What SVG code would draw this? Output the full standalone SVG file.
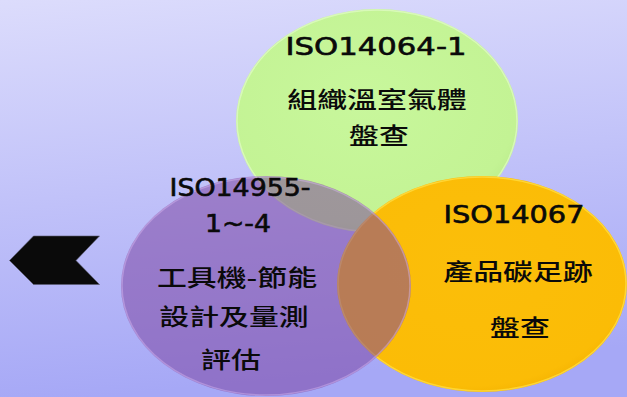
<svg xmlns="http://www.w3.org/2000/svg" width="627" height="397" viewBox="0 0 627 397">
  <defs>
    <linearGradient id="bg" x1="0" y1="0" x2="0.15" y2="1">
      <stop offset="0" stop-color="#dcdcfc"/>
      <stop offset="1" stop-color="#a6a8f6"/>
    </linearGradient>
    <radialGradient id="gGreen" cx="0.45" cy="0.4" r="0.65">
      <stop offset="0" stop-color="#c8f79c"/>
      <stop offset="0.85" stop-color="#c3f394"/>
      <stop offset="1" stop-color="#b8ea8a"/>
    </radialGradient>
    <radialGradient id="gOrange" cx="0.45" cy="0.4" r="0.65">
      <stop offset="0" stop-color="#fbbe0a"/>
      <stop offset="0.88" stop-color="#fbbc06"/>
      <stop offset="1" stop-color="#f2b000"/>
    </radialGradient>
    <style>
      .lbl { font-family: "Noto Sans CJK TC", "Noto Sans", sans-serif; font-size: 23px; font-weight: 500; fill: #0a0a0a; text-anchor: middle; }
      .lat { font-family: "DejaVu Sans", "Noto Sans CJK TC", sans-serif; font-size: 24px; fill: #0a0a0a; stroke: #0a0a0a; stroke-width: 0.6; text-anchor: middle; }
      .rim { fill: none; stroke-width: 1.5; }
    </style>
  </defs>

  <rect x="0" y="0" width="627" height="397" fill="url(#bg)"/>

  <g id="node-green">
    <ellipse cx="377" cy="121" rx="141" ry="112" fill="url(#gGreen)"/>
    <ellipse class="rim" cx="377" cy="121" rx="140" ry="111" stroke="#e6fbd0" stroke-opacity="0.6"/>
  </g>

  <g id="node-orange">
    <ellipse cx="482" cy="284" rx="145" ry="108" fill="url(#gOrange)"/>
    <ellipse class="rim" cx="482" cy="284" rx="144" ry="107" stroke="#ffe14a" stroke-opacity="0.7"/>
  </g>

  <g id="node-purple">
    <ellipse cx="266" cy="286" rx="145" ry="110" fill="#7a41a0" fill-opacity="0.52"/>
    <ellipse class="rim" cx="266" cy="286" rx="144" ry="109" stroke="#d8b8f0" stroke-opacity="0.45"/>
  </g>

  <g id="labels-green">
    <text class="lat" x="376" y="55" textLength="181" lengthAdjust="spacingAndGlyphs">ISO14064-1</text>
    <text class="lbl" transform="translate(377,108) scale(1.3,1)">組織溫室氣體</text>
    <text class="lbl" transform="translate(379,144) scale(1.3,1)">盤查</text>
  </g>

  <g id="labels-purple">
    <text class="lat" x="240" y="196" textLength="141" lengthAdjust="spacingAndGlyphs">ISO14955-</text>
    <text class="lat" x="238" y="232" textLength="66" lengthAdjust="spacingAndGlyphs">1~-4</text>
    <text class="lbl" transform="translate(237,286) scale(1.3,1)">工具機-節能</text>
    <text class="lbl" transform="translate(234,325) scale(1.3,1)">設計及量測</text>
    <text class="lbl" transform="translate(231,368) scale(1.3,1)">評估</text>
  </g>

  <g id="labels-orange">
    <text class="lat" x="514" y="223" textLength="141" lengthAdjust="spacingAndGlyphs">ISO14067</text>
    <text class="lbl" transform="translate(518,280) scale(1.3,1)">產品碳足跡</text>
    <text class="lbl" transform="translate(520,336) scale(1.3,1)">盤查</text>
  </g>

  <g id="node-arrow">
    <polygon points="9.5,260.5 33.5,236 99.5,236 76,260.5 99.5,284.5 33.5,284.5" fill="#0a0a0a" stroke="#5a5a70" stroke-width="0.6"/>
  </g>

  <g id="connectors"></g>
</svg>
